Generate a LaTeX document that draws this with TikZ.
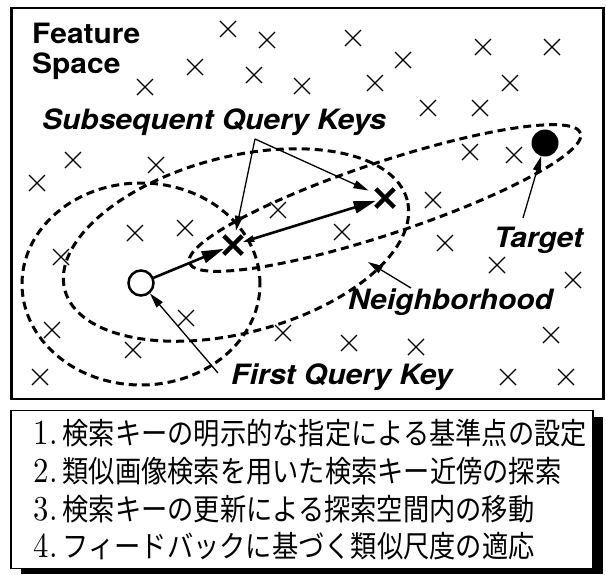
\documentclass[tikz,border=0pt]{standalone}
\usepackage{fontspec}
\usetikzlibrary{shapes.misc,arrows.meta}
\newfontfamily\labelfont[FakeStretch=1.07]{TeX Gyre Heros}
\newfontfamily\jpfont[FakeStretch=0.875]{Noto Sans CJK JP}
\newfontfamily\numfont[FakeStretch=0.88]{lmroman10-regular.otf}
\begin{document}
\begin{tikzpicture}[x=1pt,y=-1pt,
  sample/.style={draw, cross out, line width=1.3pt, minimum size=16pt, inner sep=0pt, outer sep=0pt},
  querykey/.style={draw, cross out, line width=4.5pt, minimum size=14pt, inner sep=0pt},
  nbhd/.style={draw, line width=3pt, dash pattern=on 8pt off 5pt},
  lab/.style={font=\labelfont\fontsize{28}{30}\selectfont\bfseries\itshape, inner sep=0pt, anchor=base west},
  title/.style={font=\labelfont\fontsize{28}{30}\selectfont\bfseries, inner sep=0pt, anchor=base west},
  jp/.style={font=\jpfont\fontsize{30}{30}\selectfont, inner sep=0pt, anchor=base west},
  thickarrow/.style={line width=2.6pt, -{Triangle[length=22pt,width=12pt]}},
  thinarrow/.style={line width=1.3pt, -{Triangle[length=15pt,width=8pt]}},
  num/.style={font=\numfont\fontsize{35}{35}\selectfont}
]
\useasboundingbox (0,0) rectangle (606,574);

% feature space frame
\draw[line width=2.5pt] (11.5,8) rectangle (603.5,399);

% neighborhoods of the three query keys
\draw[nbhd] (141,284) ellipse [x radius=119pt, y radius=101pt];
\draw[nbhd, rotate around={14.7:(236,245)}] (236,245) ellipse [x radius=177pt, y radius=88pt];
\draw[nbhd, rotate around={18.35:(385,198)}] (385,198) ellipse [x radius=206pt, y radius=36pt];

% sample points
\foreach \x/\y [count=\i] in {228/29,267/40,195/67,254/75,145/87,353/38,403/60,483/47,552/47,
  375/83,302/86,510/83,428/108,480/108,73/160,156/165,37/183,470/152,514/155,278/210,
  185/228,342/232,433/200,445/243,497/265,573/280,135/233,61/257,186/318,52/330,133/350,
  283/333,40/377,349/343,416/347,551/335,508/377,566/377}
  \node[sample] (s\i) at (\x,\y) {};

% query keys and target
\node[draw, circle, line width=2.5pt, fill=white, minimum size=25pt, inner sep=0pt] (k0) at (141,283) {};
\node[querykey] (k1) at (233,245) {};
\node[querykey] (k2) at (385,198) {};
\node[circle, fill, minimum size=27pt, inner sep=0pt] (tg) at (545,143) {};

% labels
\node[title] (fs1) at (32,43) {Feature};
\node[title] (fs2) at (32,73) {Space};
\node[lab] (sqk) at (42,129) {Subsequent Query Keys};
\node[lab] (tgl) at (494,247) {Target};
\node[lab] (nbl) at (348,309) {Neighborhood};
\node[lab] (fqk) at (231,384) {First Query Key};

% movement of the query key
\draw[thickarrow] (k0) -- (k1);
\draw[line width=2.6pt, {Triangle[length=12pt,width=6pt]}-{Triangle[length=22pt,width=12pt]}] (k1) -- (k2);

% label pointers
\coordinate (ap) at (255,139);
\draw[thinarrow, shorten >=5pt] (ap) -- (k1);
\draw[thinarrow, shorten >=8pt] (ap) -- (k2);
\coordinate (fqa) at (218,373);
\draw[thinarrow] (fqa) -- (k0);
\coordinate (nba) at (411,288);
\coordinate (nbt) at (368,262);
\draw[thinarrow] (nba) -- (nbt);
\coordinate (tga) at (523,218);
\draw[thinarrow] (tga) -- (tg);

% list of steps with drop shadow
\fill (21,417) rectangle (603,574);
\draw[fill=white, line width=1.5pt] (11,410.5) rectangle (593,568.5);
\node[jp] (l1) at (33.5,444) {{\numfont\fontsize{35}{35}\selectfont 1.}\hspace{5pt}検索キーの明示的な指定による基準点の設定};
\node[jp] (l2) at (33.5,482) {{\numfont\fontsize{35}{35}\selectfont 2.}\hspace{5pt}類似画像検索を用いた検索キー近傍の探索};
\node[jp] (l3) at (33.5,520) {{\numfont\fontsize{35}{35}\selectfont 3.}\hspace{5pt}検索キーの更新による探索空間内の移動};
\node[jp] (l4) at (33.5,557) {{\numfont\fontsize{35}{35}\selectfont 4.}\hspace{5pt}フィードバックに基づく類似尺度の適応};
\end{tikzpicture}
\end{document}
